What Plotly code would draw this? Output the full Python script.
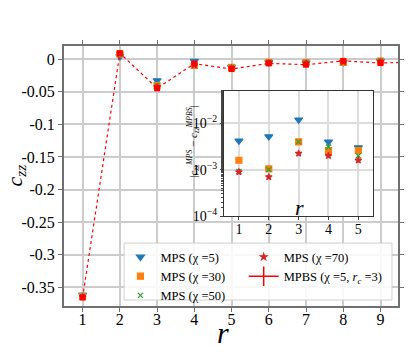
import plotly.graph_objects as go

# main panel: correlation c_zz vs distance r
r_main = [1, 2, 3, 4, 5, 6, 7, 8, 9, 10]
mpbs = [-0.366, 0.0095, -0.0445, -0.0066, -0.0149, -0.0062, -0.0082, -0.0024, -0.0057, -0.0038]
mpbs_err = [0.001, 0.001, 0.001, 0.001, 0.001, 0.001, 0.001, 0.001, 0.001, 0.001]
mps_chi5 = [-0.362, 0.0045, -0.0325, -0.0028, -0.0119, -0.0046, -0.0051, -0.0046, -0.0026, -0.0038]
mps_chi30 = [-0.3644, 0.0085, -0.0405, -0.0092, -0.0123, -0.0046, -0.0051, -0.0046, -0.0026, -0.0038]
mps_chi50 = [-0.3651, 0.0085, -0.0405, -0.0099, -0.0129, -0.0048, -0.0055, -0.0044, -0.0030, -0.0038]
mps_chi70 = [-0.3651, 0.0088, -0.0423, -0.0086, -0.0133, -0.0052, -0.0060, -0.0040, -0.0034, -0.0038]

# inset: |c_MPS - c_MPBS| for r = 1..5
r_inset = [1, 2, 3, 4, 5]
diff_chi5 = [4.2e-3, 5.2e-3, 1.2e-2, 4.0e-3, 3.0e-3]
diff_chi30 = [1.6e-3, 1.05e-3, 4.0e-3, 2.6e-3, 2.6e-3]
diff_chi50 = [9.2e-4, 1.0e-3, 4.0e-3, 3.1e-3, 2.0e-3]
diff_chi70 = [9.0e-4, 7.0e-4, 2.25e-3, 2.0e-3, 1.6e-3]

inset_ticks = [1e-4, 1e-3, 1e-2]
inset_ticktext = ["10<sup>\u22124</sup>", "10<sup>\u22123</sup>", "10<sup>\u22122</sup>"]

FONT = "Liberation Serif, Times New Roman, DejaVu Serif, serif"
BLUE, ORANGE, GREEN, RED70, RED = "#1f77b4", "#ff7f0e", "#2ca02c", "#d62728", "#ff0000"

fig = go.Figure()

# (name, main values, inset values, colour, symbol, size, legend)
series = [
    ("MPS (\u03c7 =5)", mps_chi5, diff_chi5, BLUE, "triangle-down", 7, "legend"),
    ("MPS (\u03c7 =30)", mps_chi30, diff_chi30, ORANGE, "square", 6, "legend"),
    ("MPS (\u03c7 =50)", mps_chi50, diff_chi50, GREEN, "x-thin-open", 5, "legend"),
    ("MPS (\u03c7 =70)", mps_chi70, diff_chi70, RED70, "star", 5, "legend2"),
]

for name, vals, diffs, color, sym, size, leg in series:
    fig.add_trace(go.Scatter(
        x=r_main, y=vals, mode="markers", name=name, legend=leg,
        marker=dict(symbol=sym, size=size, color=color, line=dict(color=color, width=1.2)),
        xaxis="x", yaxis="y"))
    fig.add_trace(go.Scatter(
        x=r_inset, y=diffs, mode="markers", showlegend=False,
        marker=dict(symbol=sym, size=size, color=color, line=dict(color=color, width=1.2)),
        xaxis="x2", yaxis="y2"))

fig.add_trace(go.Scatter(
    x=r_main, y=mpbs, mode="lines+markers", showlegend=False,
    line=dict(color=RED, width=1.2, dash="dot"),
    marker=dict(symbol="square", size=6, color=RED),
    error_y=dict(type="data", array=mpbs_err, color=RED, width=0, thickness=1.2),
    xaxis="x", yaxis="y"))

# legend handle for the MPBS series (line with error bar)
fig.add_trace(go.Scatter(
    x=[None], y=[None], mode="lines+markers", name="MPBS (\u03c7 =5, <i>r<sub>c</sub></i> =3)",
    legend="legend2", line=dict(color=RED, width=1.5),
    marker=dict(symbol="line-ns-open", size=14, color=RED, line=dict(color=RED, width=1.5)),
    xaxis="x", yaxis="y"))

leg_common = dict(yanchor="top", xanchor="left", y=0.245, bgcolor="rgba(0,0,0,0)",
                  borderwidth=0, font=dict(size=12.5), itemwidth=30, traceorder="normal",
                  tracegroupgap=0)

fig.update_layout(
    width=416, height=360,
    margin=dict(l=64, r=14, t=46, b=54),
    paper_bgcolor="white", plot_bgcolor="white",
    font=dict(family=FONT, size=16, color="black"),
    xaxis=dict(domain=[0, 1], range=[0.5, 9.47], tickvals=[1, 2, 3, 4, 5, 6, 7, 8, 9],
               showgrid=True, gridcolor="#cccccc", gridwidth=1.5, zeroline=False,
               showline=True, linecolor="#707070", linewidth=2, mirror="ticks",
               ticks="outside", ticklen=4, tickcolor="#707070", anchor="y",
               ticklabelstandoff=-6),
    yaxis=dict(domain=[0, 1], range=[-0.379, 0.0205],
               tickvals=[0, -0.05, -0.1, -0.15, -0.2, -0.25, -0.3, -0.35],
               ticktext=["0", "-0.05", "-0.1", "-0.15", "-0.2", "-0.25", "-0.3", "-0.35"],
               showgrid=True, gridcolor="#cccccc", gridwidth=1.5, zeroline=False,
               showline=True, linecolor="#707070", linewidth=2, mirror="ticks",
               ticks="outside", ticklen=4, tickcolor="#707070", anchor="x"),
    xaxis2=dict(domain=[0.479, 0.926], range=[0.5, 5.5], tickvals=r_inset, anchor="y2",
                showgrid=True, gridcolor="#dddddd", gridwidth=1.5, zeroline=False,
                showline=True, linecolor="#333333", linewidth=1, mirror=True,
                ticks="outside", ticklen=3, tickfont=dict(size=14), ticklabelstandoff=-3),
    yaxis2=dict(domain=[0.346, 0.827], type="log", range=[-4, -1.3], anchor="x2",
                tickvals=inset_ticks, ticktext=inset_ticktext,
                showgrid=True, gridcolor="#dddddd", gridwidth=1.5, zeroline=False,
                showline=True, linecolor="#333333", linewidth=1, mirror=True,
                ticks="outside", ticklen=3, tickfont=dict(size=14),
                minor=dict(ticks="outside", ticklen=2, showgrid=False)),
    legend=dict(x=0.169, **leg_common),
    legend2=dict(x=0.538, **leg_common),
    showlegend=True,
    shapes=[dict(type="rect", xref="paper", yref="paper", x0=0.180, x1=0.982,
                 y0=0.023, y1=0.242, layer="above",
                 fillcolor="rgba(255,255,255,0.85)", line=dict(color="#d0d0d0", width=1))],
    annotations=[
        dict(text="<i>c</i><sub><i>zz</i></sub>", xref="paper", yref="paper",
             x=-0.145, y=0.5, xanchor="center", yanchor="middle",
             showarrow=False, textangle=-90, font=dict(size=22)),
        dict(text="<i>r</i>", xref="paper", yref="paper", x=0.476, y=-0.1,
             xanchor="center", yanchor="middle", showarrow=False, font=dict(size=30)),
        dict(text="<i>r</i>", xref="paper", yref="paper", x=0.704, y=0.377,
             xanchor="center", yanchor="middle", showarrow=False, font=dict(size=22)),
        dict(text="|<i>c</i><sub><i>zz</i></sub><sup><i>MPS</i></sup> \u2212 <i>c</i><sub><i>zz</i></sub><sup><i>MPBS</i></sup>|",
             xref="paper", yref="paper", x=0.388, y=0.63, xanchor="center", yanchor="middle",
             showarrow=False, textangle=-90, font=dict(size=11)),
    ],
)

fig.write_html("out.html", config={"displayModeBar": False},
               post_script="document.body.style.margin='0';")
